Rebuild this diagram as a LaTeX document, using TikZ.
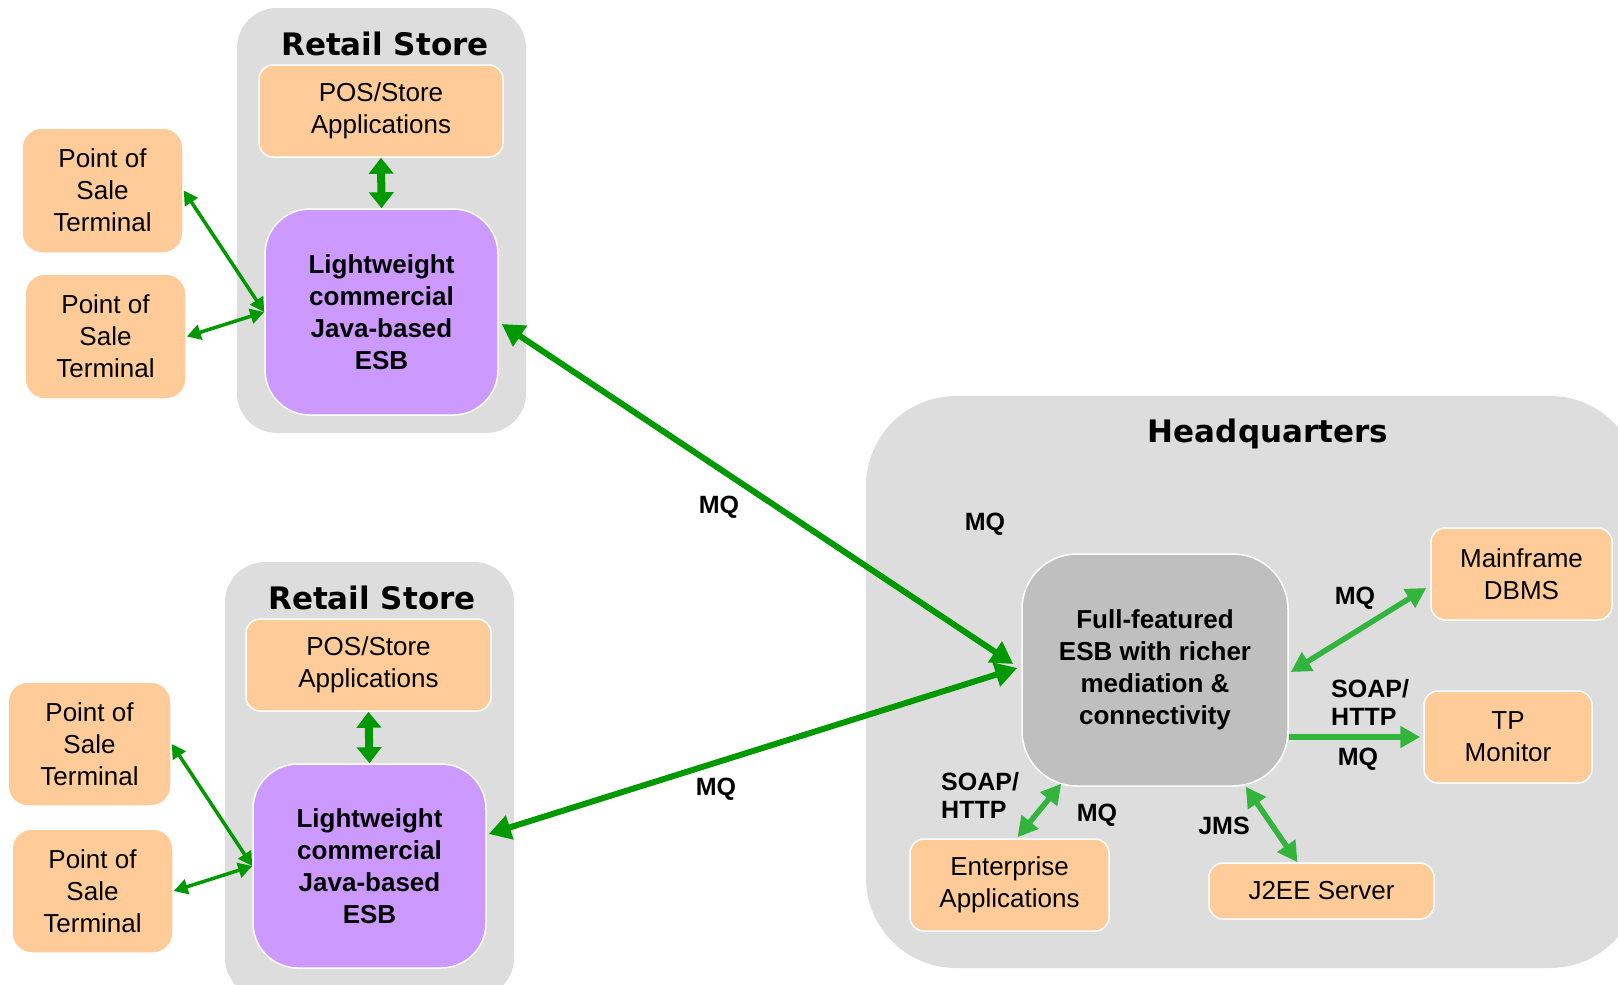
\documentclass[tikz,border=0pt]{standalone}
\usepackage{fontspec}
\setmainfont{Liberation Sans}
\newfontfamily\titlefont{DejaVu Sans}
\usetikzlibrary{arrows.meta,calc}
\definecolor{peach}{HTML}{FFCC99}
\definecolor{lilac}{HTML}{CC99FF}
\definecolor{areagray}{HTML}{DDDDDD}
\definecolor{esbgray}{HTML}{BFBFBF}
\definecolor{dkgreen}{HTML}{009900}
\definecolor{ltgreen}{HTML}{33B53D}

\begin{document}
\begin{tikzpicture}[x=1pt, y=-1pt, line join=round,
    area/.style={fill=areagray, inner sep=0},
    title/.style={inner sep=0, font=\titlefont\bfseries\fontsize{31}{36}\selectfont},
    app/.style={fill=peach, draw=white, line width=1.5pt, rounded corners=14pt, align=center, inner sep=0, font=\fontsize{26}{32}\selectfont},
    esb/.style={draw=white, line width=1.5pt, align=center, inner sep=0, font=\bfseries\fontsize{26}{32}\selectfont},
    proto/.style={inner sep=0, align=left, font=\bfseries\fontsize{25}{28}\selectfont},
    mq/.style={draw=dkgreen, line width=6pt, {Triangle[length=22pt,width=24pt]}-{Triangle[length=22pt,width=24pt]}},
    local/.style={draw=dkgreen, line width=8pt, {Triangle[length=16pt,width=24pt]}-{Triangle[length=16pt,width=24pt]}},
    term/.style={draw=dkgreen, line width=3.5pt, {Triangle[length=14pt,width=15pt]}-{Triangle[length=14pt,width=15pt]}},
    hqlink/.style={draw=ltgreen, line width=5.5pt, {Triangle[length=20pt,width=21pt]}-{Triangle[length=20pt,width=21pt]}}]
\useasboundingbox (0,0) rectangle (1618,985);

% first store
\node[area, rounded corners=40pt, minimum width=289pt, minimum height=425pt] (storeA) at (381.5,220.5) {};
\node[title] (titleA) at (385,44) {Retail Store};
\node[app, minimum width=244pt, minimum height=92pt] (posA) at (381,111) {POS/Store\\Applications};
\node[esb, fill=lilac, rounded corners=45pt, minimum width=233pt, minimum height=206pt] (esbA) at (381.5,312) {Lightweight\\commercial\\Java-based\\ESB};
\node[app, rounded corners=20pt, minimum width=161pt, minimum height=125pt] (termA1) at (102.5,190.5) {Point of\\Sale\\Terminal};
\node[app, rounded corners=20pt, minimum width=161pt, minimum height=125pt] (termA2) at (105.5,336.5) {Point of\\Sale\\Terminal};

% second store
\node[area, rounded corners=40pt, minimum width=289pt, minimum height=436pt] (storeB) at (369.5,780) {};
\node[title] (titleB) at (372,598) {Retail Store};
\node[app, minimum width=245pt, minimum height=92pt] (posB) at (368.5,665) {POS/Store\\Applications};
\node[esb, fill=lilac, rounded corners=45pt, minimum width=233pt, minimum height=204pt] (esbB) at (369.5,866) {Lightweight\\commercial\\Java-based\\ESB};
\node[app, rounded corners=20pt, minimum width=163pt, minimum height=124pt] (termB1) at (89.5,744) {Point of\\Sale\\Terminal};
\node[app, rounded corners=20pt, minimum width=161pt, minimum height=124pt] (termB2) at (92.5,891) {Point of\\Sale\\Terminal};

% headquarters
\node[area, rounded corners=90pt, minimum width=774pt, minimum height=572pt] (hq) at (1253,682) {};
\node[title] (titleHQ) at (1268,434) {Headquarters};
\node[esb, fill=esbgray, rounded corners=55pt, minimum width=266pt, minimum height=232pt] (esbHQ) at (1155,670) {Full-featured\\ESB with richer\\mediation \&\\connectivity};
\node[app, minimum width=181pt, minimum height=92pt] (mf) at (1521.5,574) {Mainframe\\DBMS};
\node[app, minimum width=168pt, minimum height=92pt] (tp) at (1508,737) {TP\\Monitor};
\node[app, minimum width=199pt, minimum height=92pt] (ent) at (1009.5,885) {Enterprise\\Applications};
\node[app, minimum width=225pt, minimum height=56pt] (j2ee) at (1321.5,891) {J2EE Server};

% links in the stores
\draw[local] (posA.south) -- (esbA.north);
\draw[local] (posB.south) -- (esbB.north);
\draw[term] (termA1.east) -- (esbA.west);
\draw[term] (termA2.east) -- (esbA.west);
\draw[term] (termB1.east) -- (esbB.west);
\draw[term] (termB2.east) -- (esbB.west);

% store to headquarters
\draw[mq] ($(esbA.east)+(3,12)$) -- ($(esbHQ.west)+(-8,-6)$);
\draw[mq] ($(esbB.east)+(2,-32)$) -- ($(esbHQ.west)+(-4,-2)$);

% links in headquarters
\draw[hqlink] ($(esbHQ.east)+(2,2)$) -- ($(mf.west)+(-4,14)$);
\draw[hqlink, -{Triangle[length=20pt,width=21pt]}] (esbHQ.east |- tp.west) -- ($(tp.west)+(-3,0)$);
\draw[hqlink] ($(ent.north)+(8,-1)$) -- ($(esbHQ.south west)+(40,-3)$);
\draw[hqlink] ($(esbHQ.south east)+(-43,0)$) -- ($(j2ee.north)+(-24,0)$);

% protocol labels
\node[proto] (mqA) at (719,507) {MQ};
\node[proto] (mqB) at (716,789) {MQ};
\node[proto] (mqC) at (985,524) {MQ};
\node[proto] (mqMF) at (1355,598) {MQ};
\node[proto, anchor=west] (soapTP) at (1331,702) {SOAP/\\HTTP};
\node[proto] (mqTP) at (1358,759) {MQ};
\node[proto, anchor=west] (soapEnt) at (941,795) {SOAP/\\HTTP};
\node[proto] (mqEnt) at (1097,815) {MQ};
\node[proto] (jms) at (1224,826) {JMS};
\end{tikzpicture}
\end{document}
